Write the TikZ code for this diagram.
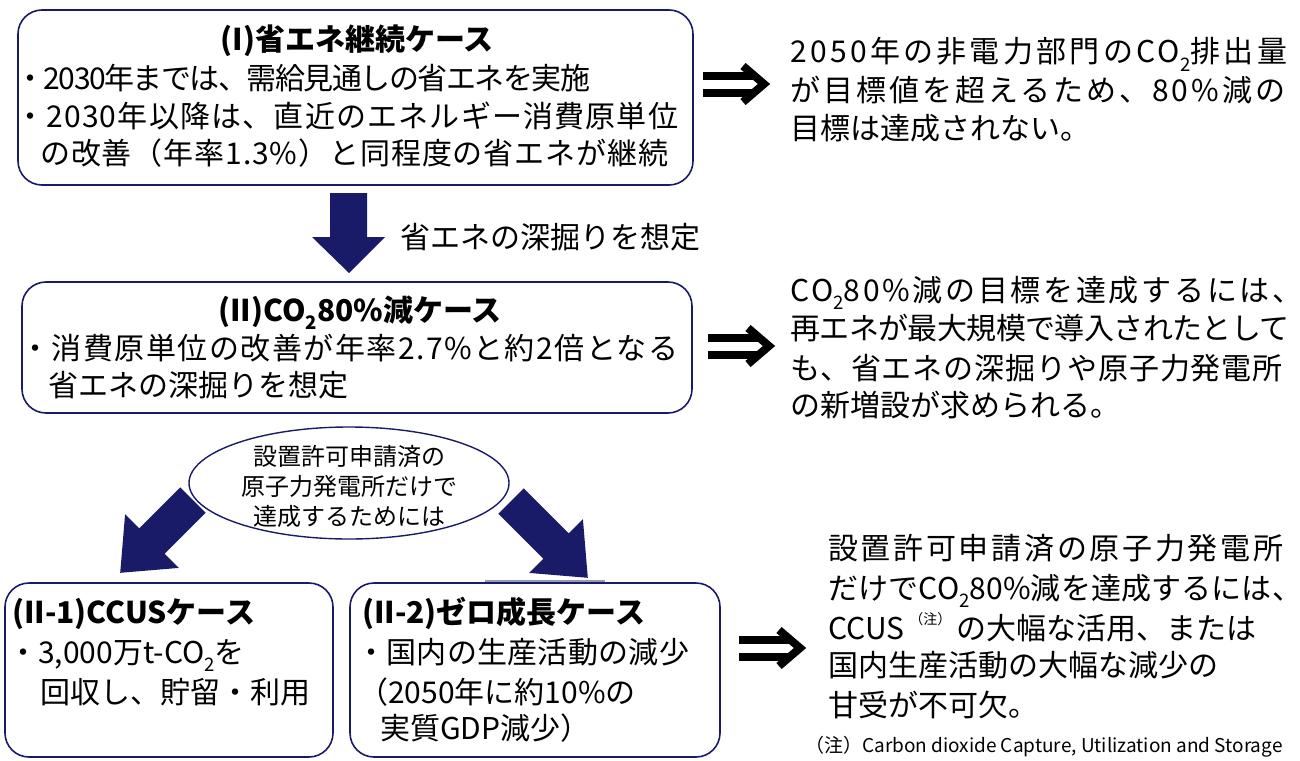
\documentclass[tikz,border=0pt]{standalone}
\usepackage{fontspec}
\setmainfont{Noto Sans CJK JP}
\usetikzlibrary{shapes.geometric}
\definecolor{navy}{RGB}{26,27,104}
\definecolor{faint}{RGB}{150,154,185}
\newcommand\subtwo{\raisebox{-0.28em}{\scalebox{0.62}{2}}}
\newcommand\lsp[1]{\addfontfeatures{LetterSpace=#1}}
\begin{document}
\begin{tikzpicture}[x=1pt,y=-1pt,
  box/.style={draw=navy,line width=1.6pt,rounded corners=24pt,fill=white,inner sep=0pt},
  txt/.style={inner sep=0pt,anchor=base west,font=\fontsize{30}{38}\selectfont},
  ttl/.style={inner sep=0pt,anchor=base,font=\fontsize{30}{38}\selectfont\bfseries},
  ttlw/.style={inner sep=0pt,anchor=base west,font=\fontsize{30}{38}\selectfont\bfseries},
  blk/.style={fill=navy,draw=none},
  implies/.pic={
    \draw[line width=8pt] (0,-8.5)--(50,-8.5) (0,8.5)--(50,8.5);
    \draw[line width=8pt,miter limit=10] (40,-18)--(61,0)--(40,18);
  }
]
\useasboundingbox (0,0) rectangle (1300,760);

% ---- boxes
\node[box,minimum width=675pt,minimum height=175pt] (b1) at (355.5,97.5) {};
\node[box,minimum width=670pt,minimum height=131pt] (b2) at (357,347.5) {};
\node[box,minimum width=328pt,minimum height=174pt] (b3) at (169,670) {};
\node[box,minimum width=370pt,minimum height=174pt] (b4) at (535,670) {};
\draw[faint,line width=2pt] (485,581) -- (605,581);

% ---- block arrows
\fill[blk] (330,193) -- (367,193) -- (367,237) -- (385,237) -- (349,273) -- (312,237) -- (330,237) -- cycle;
\fill[blk] (205.7,512.7) -- (164.7,553.7) -- (178.9,567.9) -- (120.2,572.8) -- (125.1,514.1) -- (139.3,528.3) -- (180.3,487.3) -- cycle;
\fill[blk] (523.7,488.3) -- (568.7,533.3) -- (582.9,519.1) -- (587.8,577.8) -- (529.1,572.9) -- (543.3,558.7) -- (498.3,513.7) -- cycle;

% ---- ellipse
\node[ellipse,draw=navy,line width=1.4pt,fill=white,minimum width=320pt,minimum height=112pt,inner sep=0pt] (el) at (349,483) {};
\node[inner sep=0pt,align=center,font=\fontsize{24}{30}\selectfont] (elt) at (349,486)
  {設置許可申請済の\\原子力発電所だけで\\達成するためには};

% ---- box I text
\node[ttl] (t1) at (357,51) {(I)省エネ継続ケース};
\node[txt] (t1a) at (15,89) {\lsp{-5}・2030年までは、需給見通しの省エネを実施};
\node[txt] (t1b) at (15,127) {\lsp{4}・2030年以降は、直近のエネルギー消費原単位};
\node[txt] (t1c) at (40,164) {\lsp{3}の改善（年率1.3\%）と同程度の省エネが継続};

\node[txt] (lab) at (400,248) {省エネの深掘りを想定};

% ---- box II text
\node[ttl] (t2) at (360,321) {(II)CO\subtwo 80\%減ケース};
\node[txt] (t2a) at (20,359) {\lsp{5}・消費原単位の改善が年率2.7\%と約2倍となる};
\node[txt] (t2b) at (48,396) {省エネの深掘りを想定};

% ---- box II-1 text
\node[ttlw] (t3) at (12,623) {(II-1)CCUSケース};
\node[txt] (t3a) at (8,663) {・3,000万t-CO\subtwo を};
\node[txt] (t3b) at (40,703) {回収し、貯留・利用};

% ---- box II-2 text
\node[ttlw] (t4) at (362,623) {(II-2)ゼロ成長ケース};
\node[txt] (t4a) at (356,663) {\lsp{1}・国内の生産活動の減少};
\node[txt] (t4b) at (358,703) {（2050年に約10\%の};
\node[txt] (t4c) at (380,739) {実質GDP減少）};

% ---- implication arrows
\pic at (703,84) {implies};
\pic at (708,346) {implies};
\pic at (739,648) {implies};

% ---- right texts
\node[txt] (r1a) at (790,63) {\lsp{11}2050年の非電力部門のCO\subtwo 排出量};
\node[txt] (r1b) at (790,101) {\lsp{10}が目標値を超えるため、80\%減の};
\node[txt] (r1c) at (790,139) {目標は達成されない。};

\node[txt] (r2a) at (790,301) {\lsp{9}CO\subtwo 80\%減の目標を達成するには、};
\node[txt] (r2b) at (790,339) {\lsp{-2}再エネが最大規模で導入されたとして};
\node[txt] (r2c) at (790,379) {\lsp{3}も、省エネの深掘りや原子力発電所};
\node[txt] (r2d) at (790,416) {の新増設が求められる。};

\node[txt] (r3a) at (828,559) {\lsp{9}設置許可申請済の原子力発電所};
\node[txt] (r3b) at (828,599) {\lsp{0.5}だけでCO\subtwo 80\%減を達成するには、};
\node[txt] (r3c) at (828,639) {CCUS\,\raisebox{0.5em}{\fontsize{14}{14}\selectfont（注）}\,の大幅な活用、または};
\node[txt] (r3d) at (828,676) {国内生産活動の大幅な減少の};
\node[txt] (r3e) at (828,716) {甘受が不可欠。};

\node[inner sep=0pt,anchor=base west,font=\fontsize{19}{22}\selectfont] (fn) at (805,752)
  {（注）Carbon dioxide Capture, Utilization and Storage};
\end{tikzpicture}
\end{document}
